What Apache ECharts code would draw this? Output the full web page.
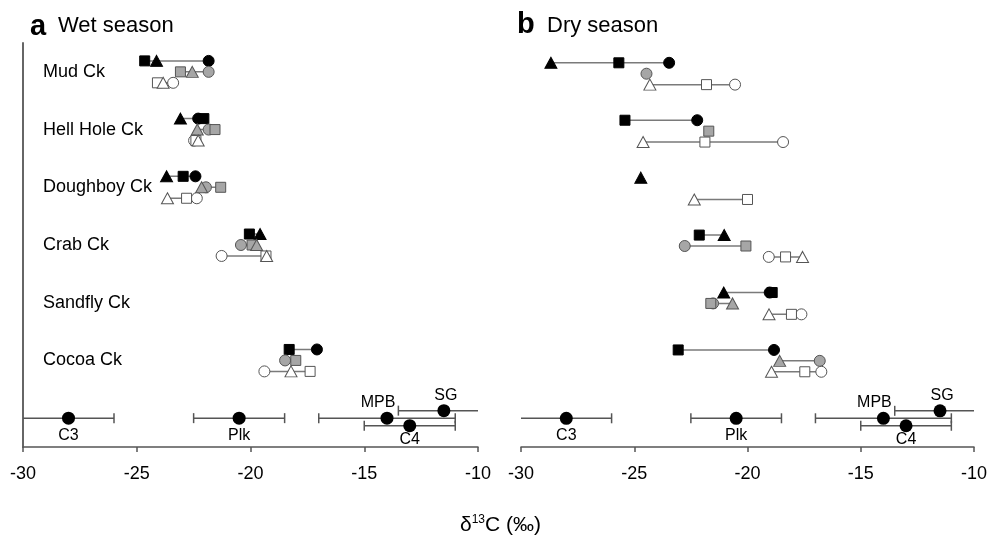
<!DOCTYPE html>
<html><head><meta charset="utf-8">
<script src="https://cdn.jsdelivr.net/npm/echarts@6/dist/echarts.min.js"></script>
<style>html,body{margin:0;padding:0;background:#fff}#c{width:1002px;height:535px}</style>
</head><body><div id="c"></div>
<script>
// ---------- DATA ----------
const creeks = ['Mud Ck','Hell Hole Ck','Doughboy Ck','Crab Ck','Sandfly Ck','Cocoa Ck'];
const xTicks = [-30,-25,-20,-15,-10];
// per creek: [circle, square, triangle] δ13C (‰); null = not present
const wetBlack = [[-21.84,-24.65,-24.13],[-22.3,-22.05,-23.08],[-22.42,-22.96,-23.69],[null,-20.05,-19.58],[null,null,null],[-17.08,-18.3,null]];
const wetGray  = [[-21.84,-23.08,-22.56],[-21.84,-21.56,-22.34],[-21.96,-21.31,-22.15],[-20.42,-19.93,-19.73],[null,null,null],[-18.48,-18.01,null]];
const wetWhite = [[-23.4,-24.09,-23.84],[-22.48,-22.4,-22.3],[-22.36,-22.81,-23.65],[-21.27,-19.32,-19.29],[null,null,null],[-19.39,-17.38,-18.22]];
const dryBlack = [[-23.46,-25.68,-28.68],[-22.22,-25.41,null],[null,null,-24.71],[null,-22.13,-21.03],[-19.02,-18.91,-21.05],[-18.83,-23.06,null]];
const dryGray  = [[-24.46,null,null],[null,-21.71,null],[null,null,null],[-22.77,-20.07,null],[-21.52,-21.62,-20.66],[-16.81,null,-18.58]];
const dryWhite = [[-20.55,-21.81,-24.31],[-18.43,-21.88,-24.61],[null,-20.0,-22.35],[-19.06,-18.32,-17.57],[-17.62,-18.06,-19.05],[-16.74,-17.47,-18.94]];
const sources = ['C3','Plk','MPB','SG','C4'];
const srcMean = [-28,-20.5,-14,-11.5,-13];
const srcLow  = [-30.5,-22.5,-17,-13.5,-15];
const srcHigh = [-26,-18.5,-11,-9.5,-11];

// ---------- LAYOUT / STYLE ----------
const FONT = 'Liberation Sans, Arial, Helvetica, sans-serif';
const shapes = ['circle','rect','triangle'];
const shapeSize = [11, 10, [12,11]];
const tones = {
  black:{color:'#000', borderColor:'#000', off:-0.19},
  gray:{color:'#a6a6a6', borderColor:'#555', off:0},
  white:{color:'#fff', borderColor:'#555', off:0.19}
};
const srcRowOff = {C3:0, Plk:0, MPB:0, SG:-0.13, C4:0.13};
const srcLabel = {
  C3:{position:'bottom', distance:3},
  Plk:{position:'bottom', distance:3},
  MPB:{position:'top', distance:1, offset:[-9,0]},
  SG:{position:'top', distance:1, offset:[2,0]},
  C4:{position:'bottom', distance:-1}
};
const srcRow = creeks.length;

const series = [];
function addRows(vals, tone, gi){
  const t = tones[tone];
  vals.forEach((row, i) => {
    const data = [];
    row.forEach((v, k) => {
      if (v === null) return;
      data.push({value:[v, i + t.off], symbol:shapes[k], symbolSize:shapeSize[k]});
    });
    if (!data.length) return;
    series.push({
      type:'line', xAxisIndex:gi, yAxisIndex:gi, data, showAllSymbol:true,
      lineStyle:{color:'#7a7a7a', width:1.5},
      itemStyle:{color:t.color, borderColor:t.borderColor, borderWidth:1, opacity:1},
      emphasis:{disabled:true}, silent:true, animation:false, z:3
    });
  });
}
[[wetBlack,'black'],[wetGray,'gray'],[wetWhite,'white']].forEach(([v,t])=>addRows(v,t,0));
[[dryBlack,'black'],[dryGray,'gray'],[dryWhite,'white']].forEach(([v,t])=>addRows(v,t,1));

[0,1].forEach(gi => {
  series.push({
    type:'custom', xAxisIndex:gi, yAxisIndex:gi, clip:true, silent:true, animation:false, z:2,
    data: sources.map((s,j)=>[srcLow[j], srcHigh[j], srcRow + srcRowOff[s]]),
    renderItem(params, api){
      const y = api.value(2);
      const a = api.coord([api.value(0), y]);
      const b = api.coord([api.value(1), y]);
      const st = {stroke:'#555', lineWidth:1.5};
      const h = 5;
      return {type:'group', children:[
        {type:'line', shape:{x1:a[0],y1:a[1],x2:b[0],y2:b[1]}, style:st},
        {type:'line', shape:{x1:a[0],y1:a[1]-h,x2:a[0],y2:a[1]+h}, style:st},
        {type:'line', shape:{x1:b[0],y1:b[1]-h,x2:b[0],y2:b[1]+h}, style:st}
      ]};
    }
  });
  series.push({
    type:'scatter', xAxisIndex:gi, yAxisIndex:gi, symbolSize:13, silent:true, animation:false, z:4,
    itemStyle:{color:'#000', opacity:1},
    data: sources.map((s,j)=>({
      value:[srcMean[j], srcRow + srcRowOff[s]],
      label:Object.assign({show:true, formatter:s, fontSize:16, color:'#000', fontFamily:FONT}, srcLabel[s])
    }))
  });
});

// creek name labels (panel a)
series.push({
  type:'scatter', xAxisIndex:0, yAxisIndex:0, symbolSize:0.01, silent:true, animation:false,
  itemStyle:{color:'rgba(0,0,0,0)', opacity:1},
  data: creeks.map((c,i)=>({value:[-30, i], name:c})),
  label:{show:true, position:'right', distance:20, formatter:'{b}', fontSize:18, color:'#000', fontFamily:FONT}
});

const xAxisBase = {
  type:'value', min:xTicks[0], max:xTicks[xTicks.length-1], interval:5,
  axisLine:{onZero:false, lineStyle:{color:'#555', width:1.5}},
  axisTick:{show:true, length:5, lineStyle:{color:'#555', width:1.5}},
  axisLabel:{fontSize:18, color:'#000', margin:18, fontFamily:FONT},
  splitLine:{show:false}
};
const yAxisBase = {type:'value', min:-0.5, max:6.5, inverse:true,
  axisLabel:{show:false}, axisTick:{show:false}, splitLine:{show:false}};

const option = {
  backgroundColor:'#fff',
  animation:false,
  grid:[
    {left:23, width:455, top:43, bottom:88},
    {left:521, width:453, top:45, bottom:88}
  ],
  xAxis:[Object.assign({gridIndex:0}, xAxisBase), Object.assign({gridIndex:1}, xAxisBase)],
  yAxis:[
    Object.assign({gridIndex:0}, yAxisBase, {axisLine:{show:true, onZero:false, lineStyle:{color:'#666', width:2}}}),
    Object.assign({gridIndex:1}, yAxisBase, {axisLine:{show:false}})
  ],
  graphic:[
    {type:'text', left:30, top:12, style:{text:'a', font:'bold 29px '+FONT, fill:'#000'}},
    {type:'text', left:58, top:15, style:{text:'Wet season', font:'22px '+FONT, fill:'#000'}},
    {type:'text', left:517, top:10, style:{text:'b', font:'bold 29px '+FONT, fill:'#000'}},
    {type:'text', left:547, top:15, style:{text:'Dry season', font:'22px '+FONT, fill:'#000'}},
    {type:'text', left:460, top:514, style:{
      text:'{d|δ}{s|13}{d|C (‰)}',
      rich:{d:{fontSize:21, fontFamily:FONT, color:'#000'},
            s:{fontSize:12, fontFamily:FONT, color:'#000', padding:[0,0,10,0]}}
    }}
  ],
  series
};
const chart = echarts.init(document.getElementById('c'), null, {renderer:'canvas'});
chart.setOption(option);
</script>
</body></html>
